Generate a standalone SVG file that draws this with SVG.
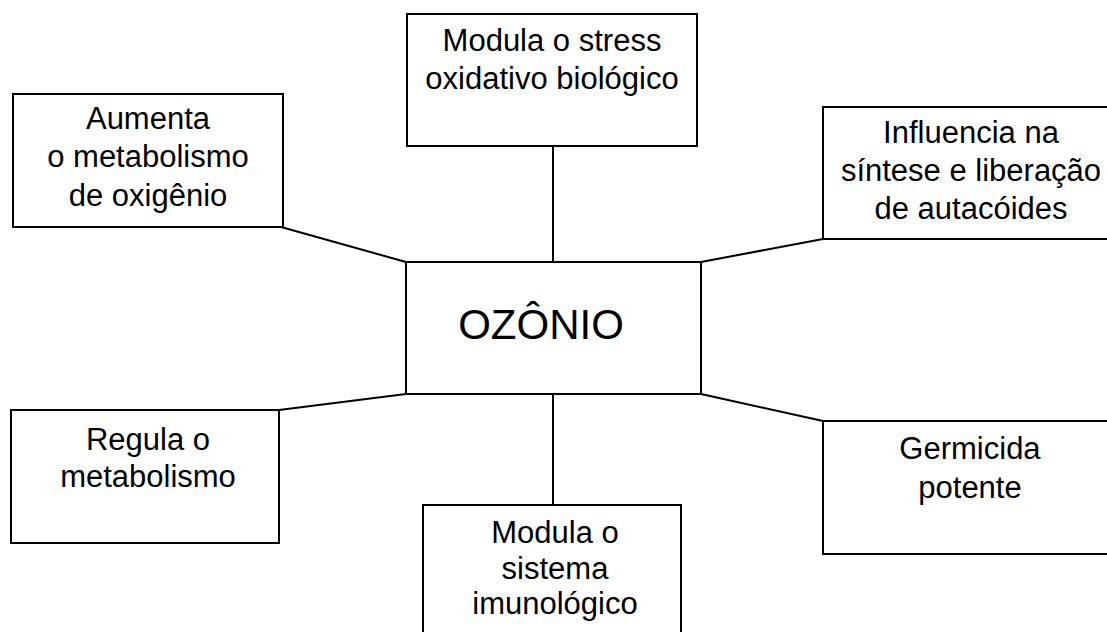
<svg xmlns="http://www.w3.org/2000/svg" width="1107" height="632" viewBox="0 0 1107 632">
<style>
.box{fill:#fff;stroke:#000;stroke-width:2}
.t{font-family:"Liberation Sans",Arial,sans-serif;font-size:31px;fill:#000;text-anchor:middle}
.big{font-family:"Liberation Sans",Arial,sans-serif;font-size:42px;fill:#000;text-anchor:middle}
.c{stroke:#000;stroke-width:2;fill:none}
</style>
<rect width="1107" height="632" fill="#fff"/>
<g id="connectors">
<line class="c" x1="281" y1="227" x2="406" y2="262"/>
<line class="c" x1="553" y1="146" x2="553" y2="262"/>
<line class="c" x1="701" y1="262" x2="823" y2="239"/>
<line class="c" x1="279" y1="410" x2="406" y2="394"/>
<line class="c" x1="553" y1="394" x2="553" y2="505"/>
<line class="c" x1="701" y1="394" x2="823" y2="421"/>
</g>
<g id="center">
<rect class="box" x="406" y="262" width="295" height="132"/>
<text class="big" x="541" y="339">OZÔNIO</text>
</g>
<g id="top">
<rect class="box" x="407" y="14" width="290" height="132"/>
<text class="t" x="552" y="51">Modula o stress</text>
<text class="t" x="552" y="89">oxidativo biológico</text>
</g>
<g id="topleft">
<rect class="box" x="13" y="94" width="270" height="133"/>
<text class="t" x="148" y="129">Aumenta</text>
<text class="t" x="148" y="167">o metabolismo</text>
<text class="t" x="148" y="206">de oxigênio</text>
</g>
<g id="topright">
<rect class="box" x="823" y="107" width="296" height="132"/>
<text class="t" x="971" y="143">Influencia na</text>
<text class="t" x="971" y="181">síntese e liberação</text>
<text class="t" x="971" y="219">de autacóides</text>
</g>
<g id="bottomleft">
<rect class="box" x="11" y="410" width="268" height="133"/>
<text class="t" x="148" y="450">Regula o</text>
<text class="t" x="148" y="487">metabolismo</text>
</g>
<g id="bottom">
<rect class="box" x="423" y="505" width="258" height="140"/>
<text class="t" x="555" y="543">Modula o</text>
<text class="t" x="555" y="579">sistema</text>
<text class="t" x="555" y="614">imunológico</text>
</g>
<g id="bottomright">
<rect class="box" x="823" y="421" width="296" height="133"/>
<text class="t" x="970" y="459">Germicida</text>
<text class="t" x="970" y="498">potente</text>
</g>
</svg>
